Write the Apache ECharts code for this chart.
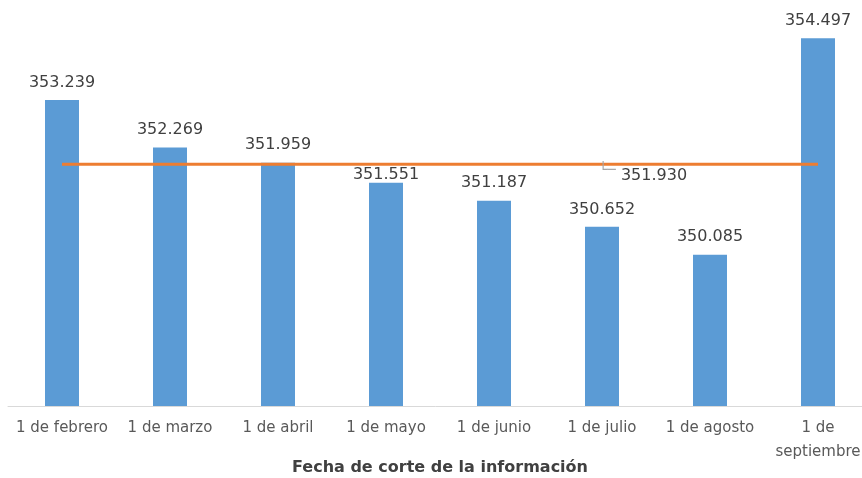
<!DOCTYPE html>
<html>
<head>
<meta charset="utf-8">
<script src="https://cdn.jsdelivr.net/npm/echarts@6/dist/echarts.min.js"></script>
<style>html,body{margin:0;padding:0;background:#fff}#c{width:862px;height:478px}</style>
</head>
<body>
<div id="c"></div>
<script>
const categories = ['1 de febrero','1 de marzo','1 de abril','1 de mayo','1 de junio','1 de julio','1 de agosto','1 de septiembre'];
const barValues = [353.239, 352.269, 351.959, 351.551, 351.187, 350.652, 350.085, 354.497];
const averageValue = 351.930;
const averageLabelIndex = 5;
const axisName = 'Fecha de corte de la información';

const fmt = v => v.toFixed(3);
const FONT = 'DejaVu Sans';

const barData = barValues.map((v, i) => i === 3 ? { value: v, label: { distance: 0 } } : v);

const avgData = categories.map((c, i) => i === averageLabelIndex ? {
  value: averageValue,
  label: {
    show: true,
    position: 'inside',
    offset: [5.2, 6.5],
    formatter: '└─',
    color: '#a6a6a6',
    fontSize: 14,
    fontFamily: FONT
  }
} : averageValue);

const chart = echarts.init(document.getElementById('c'));
chart.setOption({
  animation: false,
  grid: { left: 8, right: -10, top: 13.6, bottom: 72, containLabel: false, outerBoundsMode: 'none' },
  xAxis: {
    type: 'category',
    data: categories,
    axisTick: { show: false },
    axisLine: { lineStyle: { color: '#d9d9d9', width: 1 } },
    axisLabel: {
      interval: 0, margin: 10, color: '#595959', fontSize: 15, fontFamily: FONT, lineHeight: 24,
      formatter: v => v === '1 de septiembre' ? '1 de\nseptiembre' : v
    },
    name: axisName,
    nameLocation: 'middle',
    nameGap: 54,
    nameMoveOverlap: false,
    nameTextStyle: { color: '#404040', fontSize: 16, fontWeight: 'bold', fontFamily: FONT }
  },
  yAxis: {
    type: 'value', min: 347, max: 355, show: false, splitLine: { show: false }
  },
  series: [
    {
      type: 'bar',
      data: barData,
      barWidth: 34,
      itemStyle: { color: '#5b9bd5' },
      label: {
        show: true, position: 'top', distance: 9.5,
        formatter: p => fmt(p.value), color: '#404040', fontSize: 16, fontFamily: FONT
      },
      z: 2
    },
    {
      type: 'line',
      data: avgData,
      symbol: 'circle',
      symbolSize: 0,
      showSymbol: true,
      lineStyle: { color: '#ed7d31', width: 3 },
      itemStyle: { color: '#ed7d31' },
      label: { show: false },
      markPoint: {
        symbol: 'circle',
        symbolSize: 0,
        silent: true,
        data: [{ coord: [averageLabelIndex, averageValue] }],
        label: {
          show: true,
          position: 'inside',
          offset: [52, 11.5],
          formatter: fmt(averageValue),
          color: '#404040',
          fontSize: 16,
          fontFamily: FONT
        }
      },
      z: 3
    }
  ]
});
</script>
</body>
</html>
